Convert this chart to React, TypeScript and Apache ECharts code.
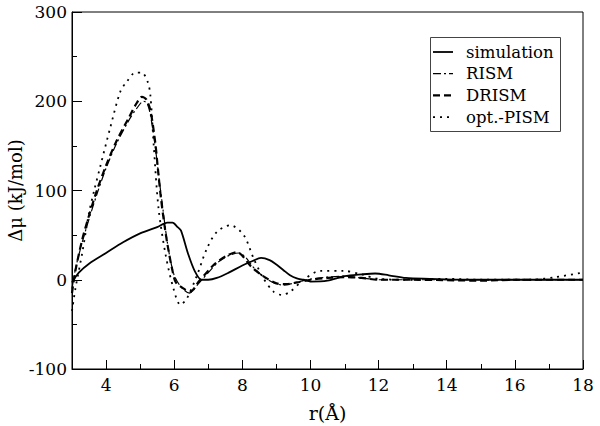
import React, { useEffect, useRef } from "react";
import * as echarts from "echarts";

const simX = [3.0, 3.2, 3.5, 4.0, 4.5, 5.0, 5.5, 5.8, 5.95, 6.1, 6.2, 6.4, 6.6, 6.8, 7.0, 7.25, 7.6, 8.0, 8.3, 8.55, 8.8, 9.0, 9.2, 9.4, 9.6, 9.8, 10.0, 10.5, 11.0, 11.5, 11.9, 12.3, 12.8, 13.5, 14.5, 16, 18];
const simY = [-3, 8, 18, 30, 42, 52, 59, 64, 64, 59, 55, 30, 10, 0, 0, 2, 8, 16, 21, 24.5, 22, 17, 11, 5, 1.5, 0, -2, -1, 4, 6, 7, 5, 2, 1, 0, 0, 0];

const rismX = [3.0, 3.1, 3.3, 3.5, 3.75, 4.0, 4.3, 4.66, 4.9, 5.1, 5.2, 5.3, 5.44, 5.55, 5.65, 5.75, 5.85, 6.0, 6.2, 6.45, 6.7, 7.0, 7.3, 7.6, 7.9, 8.1, 8.3, 8.6, 8.9, 9.2, 9.5, 9.9, 10.5, 11.0, 11.5, 12.0, 14.0, 16.0, 18.0];
const rismY = [-10, 12, 42, 68, 98, 125, 152, 178, 192, 200, 198, 185, 150, 115, 85, 55, 30, 5, -8, -15, -5, 8, 20, 27, 30, 25, 15, 4, -3, -6, -4, 0, 3, 4, 2, 0, 0, 0, 0];

const drismX = [3.0, 3.1, 3.3, 3.5, 3.73, 4.0, 4.3, 4.66, 4.9, 5.05, 5.18, 5.3, 5.44, 5.52, 5.6, 5.7, 5.8, 5.95, 6.05, 6.28, 6.47, 6.72, 7.0, 7.2, 7.5, 7.84, 8.0, 8.23, 8.5, 8.72, 9.0, 9.3, 9.6, 10.0, 10.5, 11.0, 11.5, 12.0, 13.0, 15.0, 16.0, 18.0];
const drismY = [-15, 10, 45, 72, 100, 128, 155, 181, 198, 205, 202, 190, 155, 125, 95, 65, 40, 10, -3, -10, -13.5, -2, 10, 18, 26, 31, 27, 16, 7, 1.5, -4, -5, -3, 0, 2, 3, 2, 0, 0, -1, 0, 0];

const pismX = [3.0, 3.1, 3.3, 3.5, 3.65, 3.83, 4.12, 4.42, 4.61, 4.86, 5.05, 5.22, 5.3, 5.4, 5.54, 5.75, 5.98, 6.18, 6.37, 6.67, 6.96, 7.26, 7.65, 8.04, 8.33, 8.62, 8.92, 9.16, 9.4, 9.8, 10.29, 10.97, 11.5, 12.0, 13.0, 14.0, 15.0, 16.5, 17.2, 18.0];
const pismY = [-35, -10, 30, 75, 100, 127, 170, 211, 222, 232, 232, 222, 207, 150, 80, 27.6, -10, -28, -21, 5, 35, 54, 61, 50, 24, 1.5, -13.5, -17, -13.5, 0, 10, 10, 6, 1, 0, 1, 0, 0, 3, 8];

const xTickLabels = [4, 6, 8, 10, 12, 14, 16, 18];
const xMinorTicks = [3, 5, 7, 9, 11, 13, 15, 17];
const yMin = -100;
const yMax = 300;

const seriesNames = ["simulation", "RISM", "DRISM", "opt.-PISM"];

const zip = (xs: number[], ys: number[]) => xs.map((x, i) => [x, ys[i]]);

const FONT = "DejaVu Serif";

const lineStyles: any[] = [
  { width: 1.8, type: "solid" },
  { width: 1.2, type: [8, 3, 2, 3] },
  { width: 2.2, type: [7, 4] },
  { width: 1.8, type: [2, 5] },
];

export default function App() {
  const ref = useRef<HTMLDivElement>(null);
  useEffect(() => {
    if (!ref.current) return;
    const chart = echarts.init(ref.current, undefined, { renderer: "svg" });
    const common = { type: "line", showSymbol: false, symbol: "none", smooth: 0.3 };
    const datas = [zip(simX, simY), zip(rismX, rismY), zip(drismX, drismY), zip(pismX, pismY)];

    const legendEls: any[] = [
      { type: "rect", shape: { x: 430.5, y: 37.5, width: 130, height: 94 }, style: { fill: "#fff", stroke: "#444", lineWidth: 1 }, z: 100 },
    ];
    seriesNames.forEach((n, i) => {
      const y = 52 + i * 21.7;
      const ls = lineStyles[i];
      legendEls.push({
        type: "line",
        shape: { x1: 433, y1: y, x2: 453, y2: y },
        style: { stroke: "#000", lineWidth: ls.width, lineDash: ls.type === "solid" ? null : ls.type },
        z: 101,
      });
      legendEls.push({
        type: "text",
        x: 466, y: y,
        style: { text: n, fontFamily: FONT, fontSize: 16.5, fill: "#000", verticalAlign: "middle", align: "left" },
        z: 101,
      });
    });

    chart.setOption({
      animation: false,
      backgroundColor: "#fff",
      textStyle: { fontFamily: FONT, color: "#000" },
      grid: {
        left: 72, right: 17, top: 12, bottom: 57,
        containLabel: false,
        outerBoundsMode: "none",
        show: true, borderColor: "#000", borderWidth: 1, backgroundColor: "transparent",
      },
      graphic: legendEls,
      xAxis: {
        type: "value", min: 3, max: 18,
        name: "r(Å)", nameLocation: "middle", nameGap: 34,
        nameMoveOverlap: false,
        nameTextStyle: { fontFamily: FONT, fontSize: 19, color: "#000" },
        axisLine: { onZero: false, lineStyle: { color: "#000", width: 1 } },
        axisTick: { inside: true, length: 9, customValues: xTickLabels, lineStyle: { color: "#000" } },
        axisLabel: { customValues: xTickLabels, fontFamily: FONT, fontSize: 17, color: "#000", margin: 7 },
        splitLine: { show: false },
      },
      yAxis: {
        type: "value", min: yMin, max: yMax, interval: 100,
        name: "Δμ (kJ/mol)", nameLocation: "middle", nameGap: 48,
        nameMoveOverlap: false,
        nameTextStyle: { fontFamily: FONT, fontSize: 18, color: "#000" },
        axisLine: { show: true, onZero: false, lineStyle: { color: "#000", width: 1 } },
        axisTick: { inside: true, length: 10, lineStyle: { color: "#000" } },
        minorTick: { show: true, splitNumber: 2, length: 5, lineStyle: { color: "#000" } },
        axisLabel: { fontFamily: FONT, fontSize: 17, color: "#000", margin: 5 },
        splitLine: { show: false },
        minorSplitLine: { show: false },
      },
      series: seriesNames.map((n, i) => ({
        ...common,
        name: n,
        data: datas[i],
        color: "#000",
        lineStyle: { color: "#000", width: lineStyles[i].width, type: lineStyles[i].type },
      })),
    });

    const tickEls: any[] = xMinorTicks.map((v) => {
      const p = chart.convertToPixel({ gridIndex: 0 }, [v, yMin]) as number[];
      const x = Math.round(p[0]) + 0.5;
      return {
        type: "line",
        shape: { x1: x, y1: p[1], x2: x, y2: p[1] - 5 },
        style: { stroke: "#000", lineWidth: 1 },
        z: 50,
      };
    });
    chart.setOption({ graphic: [...legendEls, ...tickEls] });

    return () => chart.dispose();
  }, []);
  return <div ref={ref} style={{ width: 600, height: 426, position: "absolute", left: 0, top: 0 }} />;
}
